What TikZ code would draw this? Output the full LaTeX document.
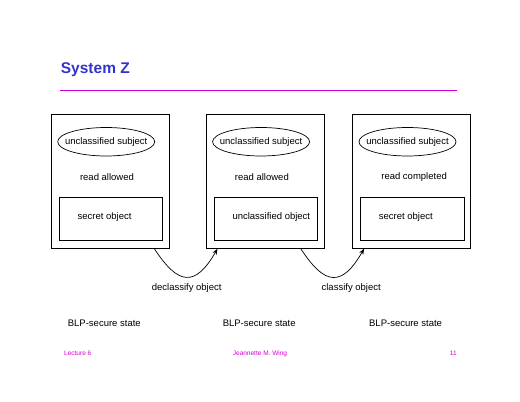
\documentclass[tikz,border=0pt]{standalone}
\usepackage{fontspec}
\setmainfont{Liberation Sans}
\usetikzlibrary{positioning,arrows.meta,shapes.geometric}
\definecolor{titleblue}{RGB}{51,51,204}
\definecolor{slidemag}{RGB}{214,0,214}
\tikzset{>={Stealth[length=6pt,width=4.5pt]}}

\begin{document}
\begin{tikzpicture}[x=1pt, y=1pt, font=\fontsize{9.5}{11}\selectfont,
    statebox/.style={draw, line width=.7pt, minimum width=118pt, minimum height=134pt, inner sep=0},
    subj/.style={draw, ellipse, line width=.7pt, minimum width=97pt, minimum height=28.5pt, inner xsep=-7.5pt, inner ysep=0},
    obj/.style={draw, line width=.7pt, minimum width=103.5pt, minimum height=42.7pt, inner sep=0},
    lbl/.style={inner sep=0},
    footer/.style={inner sep=0, text=slidemag, font=\fontsize{6.5}{8}\selectfont}]
  \useasboundingbox (0,0) rectangle (520,402);

  % title
  \node[lbl, anchor=base west, text=titleblue, font=\fontsize{15.5}{18}\selectfont\bfseries] (title) at (60.7,328.7) {System Z};
  \draw[slidemag, line width=1pt] (59.5,311.7) -- (457.3,311.7);

  % the three states
  \node[statebox] (b1) at (110.5,220.7) {};
  \node[statebox] (b2) [right=36.2pt of b1] {};
  \node[statebox] (b3) [right=27.7pt of b2] {};

  \node[subj] (s1) at ([xshift=-4.3pt, yshift=-27.8pt]b1.north) {unclassified subject};
  \node[subj] (s2) at ([xshift=-4.3pt, yshift=-27.8pt]b2.north) {unclassified subject};
  \node[subj] (s3) at ([xshift=-4.3pt, yshift=-27.8pt]b3.north) {unclassified subject};

  \node[lbl, anchor=west] (r1) at ([xshift=28.7pt, yshift=-63.4pt]b1.north west) {read allowed};
  \node[lbl, anchor=west] (r2) at ([xshift=28.7pt, yshift=-63.4pt]b2.north west) {read allowed};
  \node[lbl, anchor=west] (r3) at ([xshift=28.7pt, yshift=-63.4pt]b3.north west) {read completed};

  \node[obj] (o1) at ([xshift=.5pt, yshift=29.6pt]b1.south) {};
  \node[obj] (o2) at ([xshift=.5pt, yshift=29.6pt]b2.south) {};
  \node[obj] (o3) at ([xshift=.5pt, yshift=29.6pt]b3.south) {};
  \node[lbl, anchor=west] (t1) at ([xshift=18.5pt, yshift=1.8pt]o1.west) {secret object};
  \node[lbl, anchor=west] (t2) at ([xshift=18.5pt, yshift=1.8pt]o2.west) {unclassified object};
  \node[lbl, anchor=west] (t3) at ([xshift=18.5pt, yshift=1.8pt]o3.west) {secret object};

  % transitions
  \draw[->, line width=.7pt] ([xshift=-15.5pt]b1.south east) to[out=-57, in=-120, looseness=1.8]
    node[midway, yshift=-11pt] {declassify object} ([xshift=11.5pt]b2.south west);
  \draw[->, line width=.7pt] ([xshift=-24pt]b2.south east) to[out=-57, in=-120, looseness=1.8]
    node[midway, xshift=18pt, yshift=-11pt] {classify object} ([xshift=11.7pt]b3.south west);

  \node[lbl, anchor=west] (l1) at ([xshift=16.5pt, yshift=-75pt]b1.south west) {BLP-secure state};
  \node[lbl, anchor=west] (l2) at ([xshift=16.5pt, yshift=-75pt]b2.south west) {BLP-secure state};
  \node[lbl, anchor=west] (l3) at ([xshift=16.5pt, yshift=-75pt]b3.south west) {BLP-secure state};

  % footer
  \node[footer, anchor=base west] (lect) at (64,46.7) {Lecture 6};
  \node[footer, anchor=base] (auth) at (260,46.7) {Jeannette M. Wing};
  \node[footer, anchor=base] (page) at (453.3,46.7) {11};
\end{tikzpicture}
\end{document}
